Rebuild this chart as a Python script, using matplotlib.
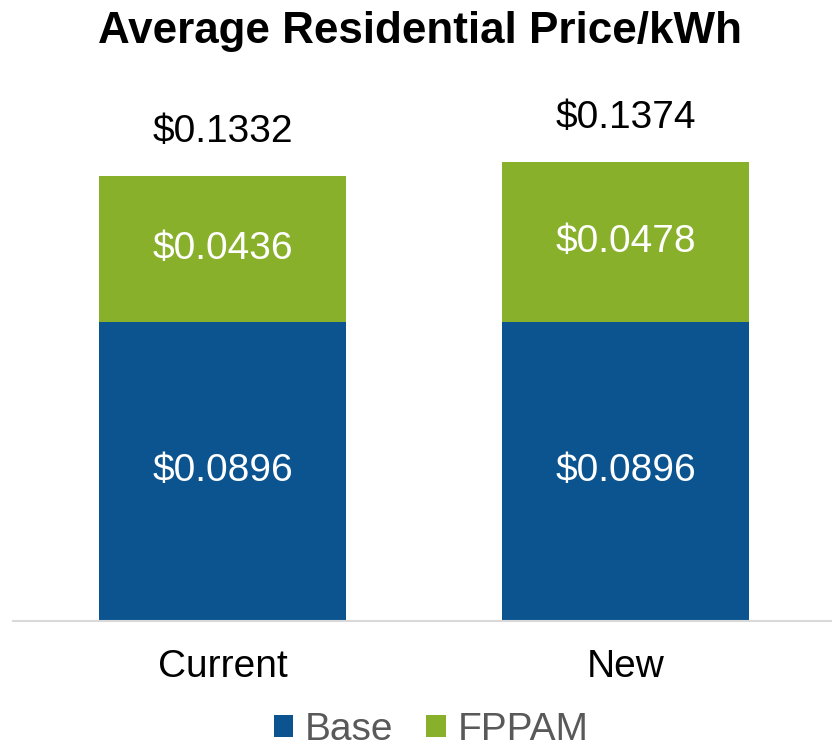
import matplotlib
matplotlib.use("Agg")
import matplotlib.pyplot as plt

categories = ["Current", "New"]
base = [0.0896, 0.0896]
fppam = [0.0436, 0.0478]
totals = [0.1332, 0.1374]

BLUE = "#0B548F"
GREEN = "#88B02A"

plt.rcParams['font.family'] = ['Liberation Sans', 'DejaVu Sans']

fig = plt.figure(figsize=(8.32, 7.49), dpi=100)
ax = fig.add_axes([13/832, 1-621/749, 819/832, 561/749])

x = list(range(len(categories)))
w = 0.613
b1 = ax.bar(x, base, width=w, color=BLUE, label="Base")
b2 = ax.bar(x, fppam, width=w, bottom=base, color=GREEN, label="FPPAM")

for i in x:
    ax.text(i, base[i] / 2, f"${base[i]:.4f}", ha='center', va='center',
            color='white', fontsize=28)
    ax.text(i, base[i] + fppam[i] / 2, f"${fppam[i]:.4f}", ha='center', va='center',
            color='white', fontsize=28)
    ax.annotate(f"${totals[i]:.4f}", (i, base[i] + fppam[i]), xytext=(0, 32),
                textcoords='offset points', ha='center', va='center',
                color='black', fontsize=28)

ax.set_xlim(-0.52, 1.512)
ax.set_ylim(0, 0.1681)
ax.set_xticks(x)
ax.set_xticklabels(categories, fontsize=28)
ax.tick_params(axis='x', length=0, pad=20)
ax.set_yticks([])
for s in ['top', 'right', 'left']:
    ax.spines[s].set_visible(False)
ax.spines['bottom'].set_color('#D9D9D9')
ax.spines['bottom'].set_linewidth(1.5)

fig.text(420/832, 1-43/749, "Average Residential Price/kWh", ha='center', va='baseline',
         fontsize=31.7, fontweight='bold')

leg = fig.legend(handles=[b1, b2], labels=["Base", "FPPAM"], loc='center',
                 bbox_to_anchor=(0.518, 1-730/749), ncol=2, frameon=False,
                 fontsize=28, handlelength=0.5, handleheight=0.5,
                 handletextpad=0.3, columnspacing=0.85, borderpad=0)
for t in leg.get_texts():
    t.set_color('#595959')

fig.savefig("out.png", dpi=100)
